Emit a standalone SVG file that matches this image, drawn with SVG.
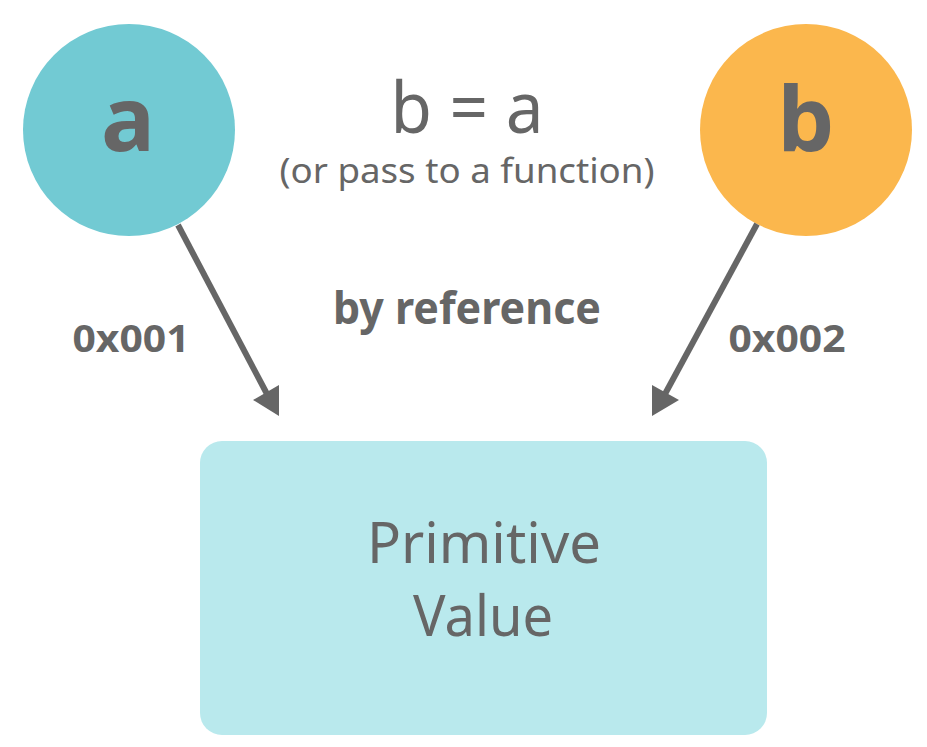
<svg xmlns="http://www.w3.org/2000/svg" width="927" height="747" viewBox="0 0 927 747">
<style>
text{font-family:"Source Sans Pro","Noto Sans","Open Sans",sans-serif;fill:#666;text-anchor:middle}
.b{font-weight:bold}
.conn line{stroke:#666;stroke-width:6}
.conn polygon{fill:#666}
</style>
<rect width="927" height="747" fill="#fff"/>
<g id="node-a">
<circle cx="129" cy="130" r="106" fill="#72cad3"/>
<text x="128" y="151" class="b" font-size="90">a</text>
</g>
<g id="node-b">
<circle cx="806" cy="130" r="106" fill="#fbb74d"/>
<text x="806" y="151" class="b" font-size="90">b</text>
</g>
<g id="title">
<text x="467" y="133" font-size="72" textLength="153" lengthAdjust="spacingAndGlyphs">b = a</text>
<text x="467" y="183" font-size="34" textLength="375" lengthAdjust="spacingAndGlyphs">(or pass to a function)</text>
<text x="467" y="324" class="b" font-size="44" textLength="268" lengthAdjust="spacingAndGlyphs">by reference</text>
</g>
<g id="primitive">
<rect x="200" y="441" width="567" height="294" rx="22" fill="#b9e9ed"/>
<text x="484" y="563" font-size="56" textLength="234" lengthAdjust="spacingAndGlyphs">Primitive</text>
<text x="483" y="636" font-size="56" textLength="140" lengthAdjust="spacingAndGlyphs">Value</text>
</g>
<g class="conn" id="connectors">
<line x1="178" y1="225" x2="267" y2="394"/>
<polygon points="279,416 253,400 279,385"/>
<text x="131" y="352" class="b" font-size="38" textLength="117" lengthAdjust="spacingAndGlyphs">0x001</text>
<line x1="757" y1="224" x2="665" y2="394"/>
<polygon points="652,416 652,385 679,400"/>
<text x="787" y="352" class="b" font-size="38" textLength="117" lengthAdjust="spacingAndGlyphs">0x002</text>
</g>
</svg>
